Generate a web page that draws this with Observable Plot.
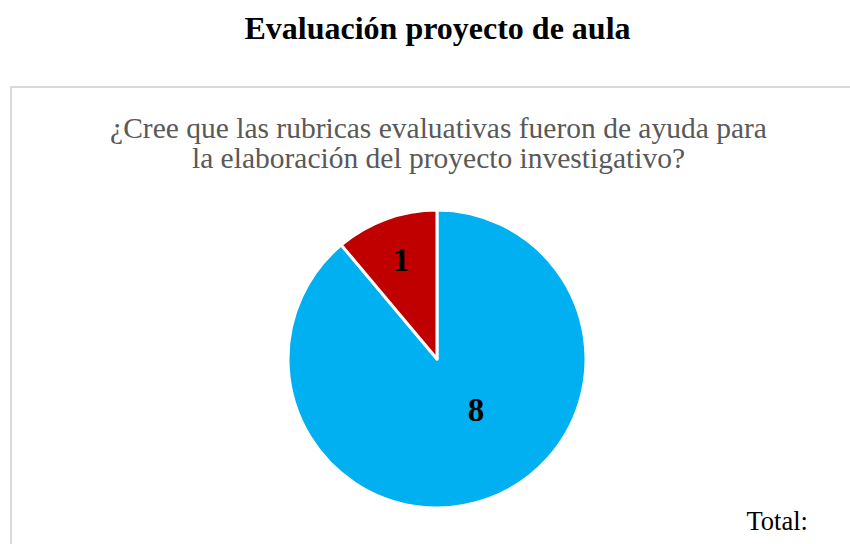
<!DOCTYPE html>
<html><head><meta charset="utf-8">
<script src="https://cdn.jsdelivr.net/npm/d3@7"></script>
<script src="https://cdn.jsdelivr.net/npm/@observablehq/plot@0.6"></script>
<style>
body{margin:0;background:#fff}
#chart{width:850px;height:544px;overflow:hidden}
</style>
</head><body><div id="chart"></div>
<script>
// ---- data ----
const categories = ["Sí", "No"];
const values = [8, 1];
const sliceColors = ["#00B0F0", "#C00000"];
const chartTitle = "Evaluación proyecto de aula";
const subtitleLines = ["¿Cree que las rubricas evaluativas fueron de ayuda para", "la elaboración del proyecto investigativo?"];
const totalLabel = "Total:";
const totalValue = d3.sum(values);

// ---- layout ----
const W = 850, H = 544;
const cx = 437, cy = 359, R = 149;
const labelPlacement = [{angle: 143, radius: 0.43}, {angle: -20, radius: 0.71}]; // Excel best-fit label spots (polar, unit radius)
const serif = "'Liberation Serif','Times New Roman',serif";

const slices = d3.pie().sort(null).value(d => d.value)(
  values.map((v, i) => ({category: categories[i], value: v, color: sliceColors[i]}))
);
const labels = slices.map((s, i) => {
  const a = labelPlacement[i].angle * Math.PI / 180, r = labelPlacement[i].radius;
  return {text: String(s.data.value), x: Math.sin(a) * r, y: Math.cos(a) * r};
});

function boxMark(index, scales, vals, dims) {
  const g = d3.create("svg:g");
  g.append("rect").attr("x", 11).attr("y", 87).attr("width", 1000).attr("height", 1000)
    .attr("fill", "none").attr("stroke", "#d9d9d9").attr("stroke-width", 2);
  return g.node();
}
function pieMark(index, scales, vals, dims) {
  const x0 = scales.x(0), y0 = scales.y(0), r = scales.x(1) - scales.x(0);
  const arc = d3.arc().innerRadius(0).outerRadius(r);
  const g = d3.create("svg:g").attr("transform", `translate(${x0},${y0})`);
  g.selectAll("path").data(slices).join("path")
    .attr("d", arc)
    .attr("fill", d => d.data.color)
    .attr("stroke", "#fff").attr("stroke-width", 3).attr("stroke-linejoin", "round");
  return g.node();
}

const plot = Plot.plot({
  width: W, height: H, margin: 0,
  style: {background: "#fff", overflow: "hidden"},
  x: {domain: [-1, 1], range: [cx - R, cx + R], axis: null},
  y: {domain: [-1, 1], range: [cy + R, cy - R], axis: null},
  marks: [
    boxMark,
    pieMark,
    Plot.text(labels, {x: "x", y: "y", text: "text", fontSize: 33, fontWeight: "bold", fontFamily: serif, fill: "#000"}),
    Plot.text([chartTitle], {text: d => d, frameAnchor: "top-left", dx: 437, dy: 38, lineAnchor: "bottom", textAnchor: "middle", fontSize: 32, fontWeight: "bold", fontFamily: serif, fill: "#000"}),
    Plot.text([subtitleLines.join("\n")], {text: d => d, frameAnchor: "top-left", dx: 438, dy: 167, lineAnchor: "bottom", textAnchor: "middle", lineHeight: 30 / 29.5, fontSize: 29.5, fontFamily: serif, fill: "#595959"}),
    Plot.text([totalLabel], {text: d => d, frameAnchor: "top-left", dx: 746, dy: 529, lineAnchor: "bottom", textAnchor: "start", fontSize: 26.5, fontFamily: serif, fill: "#000"}),
    Plot.text([String(totalValue)], {text: d => d, frameAnchor: "top-left", dx: 730, dy: 561, lineAnchor: "bottom", textAnchor: "start", fontSize: 26.5, fontFamily: serif, fill: "#000"})
  ]
});
document.getElementById("chart").appendChild(plot);
</script>
</body></html>
